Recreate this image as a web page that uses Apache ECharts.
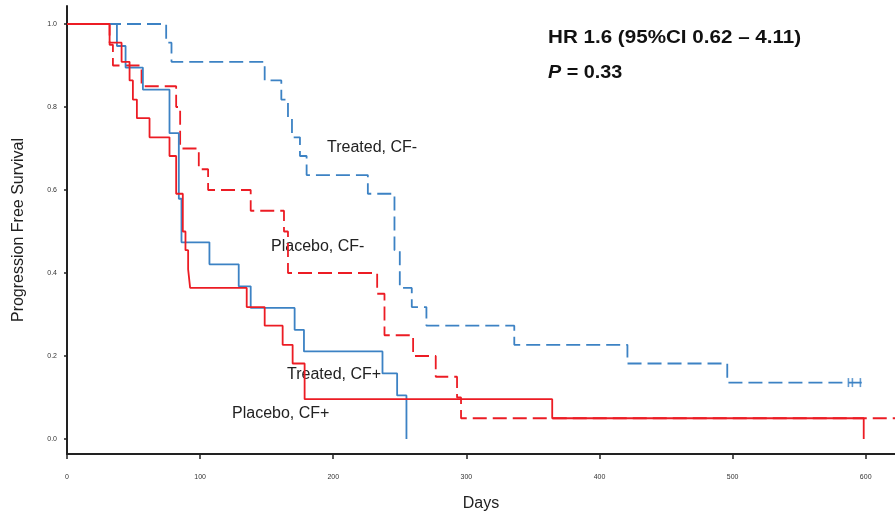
<!DOCTYPE html>
<html>
<head>
<meta charset="utf-8">
<script src="https://cdn.jsdelivr.net/npm/echarts@6/dist/echarts.min.js"></script>
<style>
html,body{margin:0;padding:0;background:#fff;}
#c{width:895px;height:515px;}
</style>
</head>
<body>
<div id="c"></div>
<script>
// ---- data ----
const xTicks = [0, 100, 200, 300, 400, 500, 600];
const yTicks = [0, 0.2, 0.4, 0.6, 0.8, 1.0];

// [day, survival] step points (value changes at the given day)
const treatedCFneg = [[0,1],[74.5,0.955],[78.5,0.909],[148.5,0.864],[161,0.818],[166,0.773],[169,0.727],[175,0.682],[180,0.636],[226,0.591],[246,0.455],[250,0.364],[259,0.318],[270,0.273],[336,0.227],[421,0.182],[496,0.136],[597,0.136]];
const treatedCFnegCensored = [[587,0.136],[590,0.136],[596,0.136]];
const treatedCFpos = [[0,1],[37.5,0.947],[44,0.895],[57,0.842],[77,0.737],[84,0.579],[86,0.474],[107,0.421],[129,0.368],[138,0.316],[171,0.263],[178,0.211],[237,0.158],[248,0.105],[255,0]];
const placeboCFneg = [[0,1],[32,0.95],[34.5,0.90],[56,0.85],[82,0.80],[85,0.70],[99,0.65],[106,0.60],[138,0.55],[163,0.50],[166,0.40],[233,0.35],[238.5,0.25],[260,0.20],[277,0.15],[293,0.10],[296,0.05],[622,0.05]];
const placeboCFpos = [[0,1],[32,0.955],[41,0.909],[47,0.864],[49.5,0.818],[52.5,0.773],[62,0.727],[77,0.682],[82,0.591],[87,0.5],[89,0.455],[91,0.409],[92.5,0.364],[135,0.318],[148.5,0.273],[162,0.227],[169.5,0.182],[178.5,0.096],[364.5,0.05],[598.5,0]];

const labels = {
  hr: 'HR 1.6 (95%CI 0.62 \u2013 4.11)',
  p: ' = 0.33',
  treatedNeg: 'Treated, CF-',
  placeboNeg: 'Placebo, CF-',
  treatedPos: 'Treated, CF+',
  placeboPos: 'Placebo, CF+',
  xName: 'Days',
  yName: 'Progression Free Survival'
};

const BLUE = '#3c82c4';
const RED = '#ec1c24';
const FONT = '"Liberation Sans", Arial, sans-serif';

const chart = echarts.init(document.getElementById('c'), null, {renderer: 'canvas'});

function km(name, data, color, dashed) {
  return {
    name, type: 'line', data, step: 'end', showSymbol: false, symbol: 'none',
    clip: true, animation: false,
    lineStyle: {color, width: 1.8, type: dashed ? [14, 6] : 'solid'}
  };
}

chart.setOption({
  animation: false,
  backgroundColor: '#fff',
  grid: {left: 67, top: 6, right: 0, bottom: 61, containLabel: false, outerBoundsMode: 'none'},
  xAxis: {
    type: 'value', min: 0, max: 622,
    name: labels.xName, nameLocation: 'middle', nameGap: 42,
    nameTextStyle: {fontFamily: FONT, fontSize: 16, color: '#222'},
    axisLine: {show: true, onZero: false, lineStyle: {color: '#222', width: 2}},
    axisTick: {show: true, length: 5, lineStyle: {color: '#222', width: 1.5}, customValues: xTicks},
    axisLabel: {fontFamily: FONT, fontSize: 7, color: '#333', margin: 20, customValues: xTicks},
    splitLine: {show: false}
  },
  yAxis: {
    type: 'value', min: -0.0361, max: 1.0434,
    name: labels.yName, nameLocation: 'middle', nameGap: 40, nameRotate: 90,
    nameTextStyle: {fontFamily: FONT, fontSize: 16, color: '#222'},
    axisLine: {show: true, onZero: false, lineStyle: {color: '#222', width: 2}},
    axisTick: {show: true, length: 3, lineStyle: {color: '#222', width: 1.5}, customValues: yTicks},
    axisLabel: {fontFamily: FONT, fontSize: 7, color: '#333', margin: 10, customValues: yTicks,
      formatter: v => v.toFixed(1)},
    splitLine: {show: false}
  },
  series: [
    km('Treated, CF-', treatedCFneg, BLUE, true),
    km('Placebo, CF-', placeboCFneg, RED, true),
    km('Treated, CF+', treatedCFpos, BLUE, false),
    km('Placebo, CF+', placeboCFpos, RED, false),
    {
      name: 'censored', type: 'scatter', data: treatedCFnegCensored,
      symbol: 'rect', symbolSize: [1.6, 9], itemStyle: {color: BLUE}, animation: false
    }
  ],
  graphic: [
    {type: 'text', x: 548, y: 29, scaleX: 1.145, style: {text: labels.hr, fontFamily: FONT, fontSize: 18, fontWeight: 'bold', fill: '#111'}},
    {type: 'text', x: 548, y: 64, scaleX: 1.1, style: {
      text: '{i|P}{b|' + labels.p + '}',
      rich: {
        i: {fontFamily: FONT, fontSize: 18, fontWeight: 'bold', fontStyle: 'italic', fill: '#111'},
        b: {fontFamily: FONT, fontSize: 18, fontWeight: 'bold', fill: '#111'}
      }
    }},
    {type: 'text', left: 327, top: 140, style: {text: labels.treatedNeg, fontFamily: FONT, fontSize: 16, fill: '#222'}},
    {type: 'text', left: 271, top: 239, style: {text: labels.placeboNeg, fontFamily: FONT, fontSize: 16, fill: '#222'}},
    {type: 'text', left: 287, top: 367, style: {text: labels.treatedPos, fontFamily: FONT, fontSize: 16, fill: '#222'}},
    {type: 'text', left: 232, top: 406, style: {text: labels.placeboPos, fontFamily: FONT, fontSize: 16, fill: '#222'}}
  ]
});
</script>
</body>
</html>
